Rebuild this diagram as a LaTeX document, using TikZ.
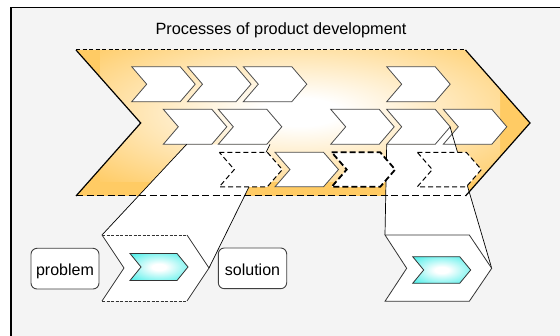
\documentclass[tikz,border=0pt]{standalone}
\usepackage{fontspec}
\setmainfont{Liberation Sans}
\definecolor{bgc}{HTML}{F4F4F4}
\definecolor{orng}{RGB}{255,203,100}
\definecolor{cyn}{RGB}{90,240,235}
\pgfdeclareradialshading{orangeglow}{\pgfpoint{0bp}{0bp}}{color(0bp)=(white); color(5bp)=(white); color(36bp)=(orng); color(50bp)=(orng)}
\pgfdeclareradialshading{cyanglow}{\pgfpoint{0bp}{0bp}}{color(0bp)=(white); color(6bp)=(white); color(32bp)=(cyn); color(50bp)=(cyn)}
\newcommand\chevpath[5]{(#1,#2) -- ++(#3,0) -- ++(#5,#4/2) -- ++(-#5,#4/2) -- ++(-#3,0) -- ++(#5,-#4/2) -- cycle}
\tikzset{
  rowchev/.style={fill=white, draw=black!70, line width=0.8},
  thindash/.style={fill=white, draw=black, line width=1, dash pattern=on 5 off 3},
  bolddash/.style={fill=white, draw=black, line width=1.8, dash pattern=on 6 off 3},
  projline/.style={draw=black, line width=0.7},
  edge/.style={draw=black!80, line width=0.8},
  labelbox/.style={draw=black!75, line width=0.9, fill=white, rounded corners=6,
    inner xsep=0, inner ysep=0, text height=27.7pt, text depth=13pt, anchor=base,
    font=\fontsize{16}{19}\selectfont},
}
\begin{document}
\begin{tikzpicture}[x=1pt,y=-1pt,line join=miter]
\useasboundingbox (0,0) rectangle (560,336);
\clip (0,0) rectangle (560,336);
\fill[white] (0,0) rectangle (560,336);
\draw[line width=1.3, fill=bgc] (11,7.3) rectangle (590,360);

% key points
\coordinate (O1) at (76,50);
\coordinate (O2) at (465.5,50);
\coordinate (O3) at (530,123);
\coordinate (O4) at (465.5,196);
\coordinate (O5) at (76,196);
\coordinate (O6) at (140.7,123);

\coordinate (LE-tl) at (102,235);
\coordinate (LE-tr) at (187,235);
\coordinate (LE-tip) at (209,268);
\coordinate (LE-br) at (187,301);
\coordinate (LE-bl) at (102,301);
\coordinate (LE-n) at (124,268);

\coordinate (RE-tl) at (385,235);
\coordinate (RE-tr) at (469.3,235);
\coordinate (RE-tip) at (491.7,268.3);
\coordinate (RE-br) at (469.3,301.3);
\coordinate (RE-bl) at (385,301.3);
\coordinate (RE-n) at (406.7,268.3);

\coordinate (LP1) at (186.7,144.3);
\coordinate (LP2) at (270,144.3);
\coordinate (RP1) at (386.7,144.3);
\coordinate (RP2) at (435,144.3);
\coordinate (RP3) at (450,126.7);

% orange chevron
\begin{scope}
\clip (O1) -- (O2) -- (O3) -- (O4) -- (O5) -- (O6) -- cycle;
\fill[orng] (60,40) rectangle (540,200);
\shade[shading=orangeglow] (100,42) rectangle (500,182);
\end{scope}

% projection areas
\fill[white] (LE-tl) -- (LP1) -- (LP2) -- (LE-tip) -- cycle;
\fill[white] (RE-tl) -- (RP1) -- (RP2) -- (RP3) -- (RE-tip) -- cycle;

% orange chevron border
\draw[line width=1.2] (O2) -- (O3) -- (O4);
\draw[line width=1.2] (O1) -- (O6) -- (O5);
\draw[line width=1, dash pattern=on 4 off 2.5] (O1) -- (O2);
\draw[line width=1, dash pattern=on 7 off 3.5] (O5) -- (O4);

% row 1
\path[rowchev] \chevpath{131.7}{66.7}{48.5}{35}{15};
\path[rowchev] \chevpath{187.5}{66.7}{48.5}{35}{15};
\path[rowchev] \chevpath{243.3}{66.7}{48.5}{35}{15};
\path[rowchev] \chevpath{386.7}{66.7}{48.5}{35}{15};
% row 2
\path[rowchev] \chevpath{163.3}{109.3}{48.5}{35}{15};
\path[rowchev] \chevpath{218.3}{109.3}{48.5}{35}{15};
\path[rowchev] \chevpath{330.7}{109.3}{48.5}{35}{15};
\path[rowchev] \chevpath{386.7}{109.3}{48.5}{35}{15};
\path[rowchev] \chevpath{443.3}{109.3}{48.5}{35}{15};

% projection lines
\draw[projline] (LE-tl) -- (LP1);
\draw[projline] (LE-tip) -- (LP2);
\draw[projline] (RE-tl) -- (RP1);
\draw[projline] (RE-tip) -- (RP3);

% row 3
\path[thindash] \chevpath{219.3}{152.3}{48}{34.5}{15};
\path[rowchev] \chevpath{275}{152.3}{48.5}{34.5}{15};
\path[bolddash] \chevpath{331.7}{152.3}{48.5}{34.5}{15};
\path[thindash] \chevpath{417.3}{152.3}{49}{34.5}{15};

% enlarged chevrons
\fill[white] (LE-tl) -- (LE-tr) -- (LE-tip) -- (LE-br) -- (LE-bl) -- (LE-n) -- cycle;
\draw[edge] (LE-tr) -- (LE-tip) -- (LE-br);
\draw[edge] (LE-bl) -- (LE-n) -- (LE-tl);
\draw[edge, dash pattern=on 3 off 1.5] (LE-tl) -- (LE-tr);
\draw[edge, dash pattern=on 3 off 1.5] (LE-bl) -- (LE-br);

\path[fill=white, edge] (RE-tl) -- (RE-tr) -- (RE-tip) -- (RE-br) -- (RE-bl) -- (RE-n) -- cycle;

% cyan chevrons
\shadedraw[shading=cyanglow, draw=black!80, line width=0.8] \chevpath{130}{253.5}{47}{27}{11};
\shadedraw[shading=cyanglow, draw=black!80, line width=0.8] \chevpath{412.7}{256.7}{47}{26.6}{11};

% labels
\node[labelbox, minimum width=68] (problem) at (65,276) {problem};
\node[labelbox, minimum width=68.4] (solution) at (252.5,275.7) {solution};
\node[anchor=base, font=\fontsize{16.3}{19}\selectfont] (title) at (281,34.5) {Processes of product development};
\end{tikzpicture}
\end{document}
